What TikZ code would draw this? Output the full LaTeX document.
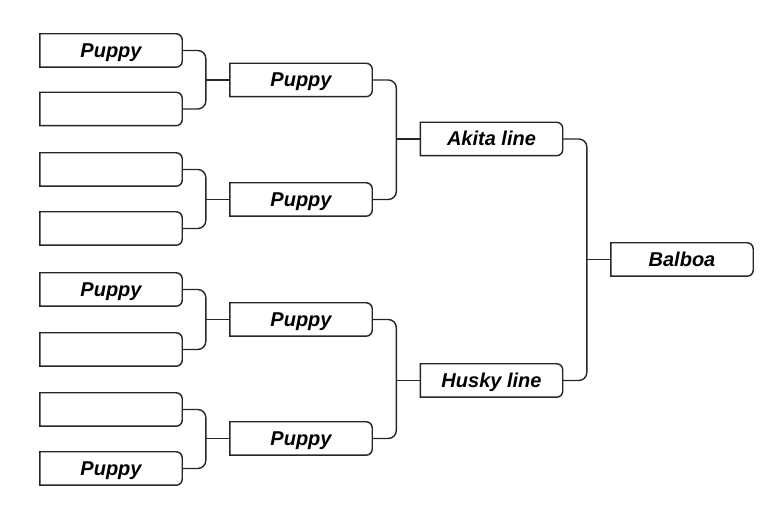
\documentclass[tikz,border=0pt]{standalone}
\usepackage{fontspec}
\setmainfont{Liberation Sans}
\usetikzlibrary{calc}
\definecolor{br-ink}{HTML}{262626}

\newcommand{\slotframe}[1]{%
  \draw[frame] (#1.north west) -- ([xshift=-6pt]#1.north east)
    arc[start angle=90,end angle=0,radius=6pt]
    -- ([yshift=6pt]#1.south east)
    arc[start angle=0,end angle=-90,radius=6pt]
    -- (#1.south west) -- cycle;}

\tikzset{
  slot/.style={minimum width=142pt,minimum height=33pt,inner sep=0pt,
    text height=14pt,text depth=0pt,
    font=\bfseries\itshape\fontsize{20}{20}\selectfont},
  frame/.style={draw=br-ink,line width=1.4pt},
  wire/.style={br-ink,line width=1.4pt,rounded corners=8pt}
}

\begin{document}
\begin{tikzpicture}[x=1pt,y=1pt]
\useasboundingbox (0,0) rectangle (784,516);

% ============ first round ============
\node[slot] (p1) at (111,465.5) {Puppy};
\node[slot] (p2) at (111,407)   {};
\node[slot] (p3) at (111,346.5) {};
\node[slot] (p4) at (111,287.5) {};
\node[slot] (p5) at (111,226.5) {Puppy};
\node[slot] (p6) at (111,166.5) {};
\node[slot] (p7) at (111,106.5) {};
\node[slot] (p8) at (111,47.5)  {Puppy};

% ============ second round ============
\node[slot] (q1) at (301,436)   {Puppy};
\node[slot] (q2) at (301,316.5) {Puppy};
\node[slot] (q3) at (301,196.5) {Puppy};
\node[slot] (q4) at (301,77.5)  {Puppy};

% ============ lines and final ============
\node[slot] (akita)  at (491.5,377)   {Akita line};
\node[slot] (husky)  at (491.5,135.5) {Husky line};
\node[slot] (balboa) at (682,256.5)   {Balboa};

% box outlines, square on the left, rounded on the right
\foreach \n in {p1,p2,p3,p4,p5,p6,p7,p8,q1,q2,q3,q4,akita,husky,balboa}
  {\slotframe{\n}}

% brackets
\draw[wire] (q1.west) -- ++(-24,0) coordinate (j1);
\draw[wire] (p1.east) -| (j1) |- (p2.east);
\draw[wire] (q2.west) -- ++(-24,0) coordinate (j2);
\draw[wire] (p3.east) -| (j2) |- (p4.east);
\draw[wire] (q3.west) -- ++(-24,0) coordinate (j3);
\draw[wire] (p5.east) -| (j3) |- (p6.east);
\draw[wire] (q4.west) -- ++(-24,0) coordinate (j4);
\draw[wire] (p7.east) -| (j4) |- (p8.east);

\draw[wire] (akita.west) -- ++(-24,0) coordinate (j5);
\draw[wire] (q1.east) -| (j5) |- (q2.east);
\draw[wire] (husky.west) -- ++(-24,0) coordinate (j6);
\draw[wire] (q3.east) -| (j6) |- (q4.east);

\draw[wire] (balboa.west) -- ++(-24,0) coordinate (j7);
\draw[wire] (akita.east) -| (j7) |- (husky.east);

\end{tikzpicture}
\end{document}
